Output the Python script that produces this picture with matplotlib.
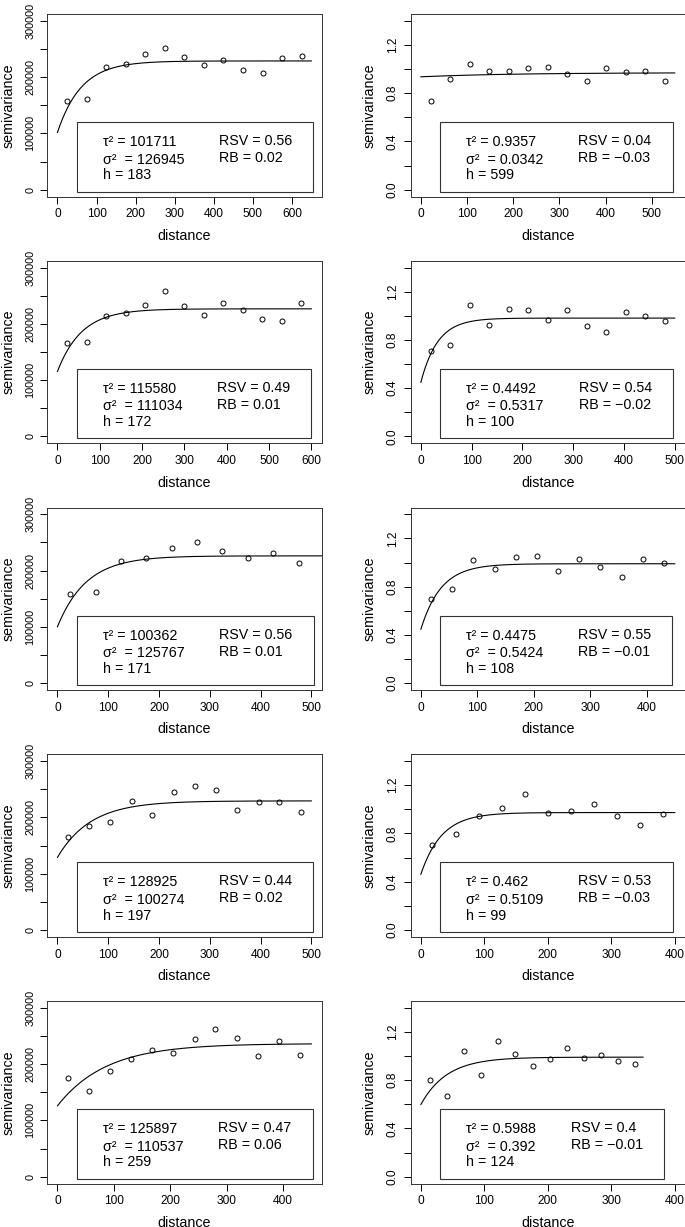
import numpy as np
import matplotlib
matplotlib.use('Agg')
import matplotlib.pyplot as plt
from matplotlib.patches import Rectangle

plt.rcParams['font.family'] = ['Liberation Sans', 'DejaVu Sans']

# empirical semivariogram points, one pair of lists per panel
# (left column: raw variable, right column: standardised variable)
dist_1 = [25, 75, 125, 175, 225, 275, 325, 375, 425, 475, 525, 575, 625]
semi_1 = [158300, 161300, 217600, 222900, 240100, 250800, 234800, 221700, 231200, 212900, 208100, 233600, 236600]
dist_2 = [21, 63, 106, 148, 190, 233, 275, 317, 359, 402, 444, 486, 528]
semi_2 = [0.734, 0.915, 1.045, 0.981, 0.981, 1.006, 1.020, 0.956, 0.898, 1.009, 0.976, 0.984, 0.904]
dist_3 = [23, 69, 115, 161, 207, 253, 300, 346, 392, 438, 484, 530, 576]
semi_3 = [165400, 167200, 214000, 218800, 233000, 257900, 232400, 216400, 237200, 225300, 208700, 205700, 236600]
dist_4 = [19, 57, 96, 134, 173, 211, 250, 288, 327, 365, 404, 442, 481]
semi_4 = [0.712, 0.754, 1.092, 0.923, 1.053, 1.050, 0.964, 1.045, 0.915, 0.865, 1.034, 1.001, 0.953]
dist_5 = [25, 75, 125, 175, 225, 275, 325, 375, 425, 475]
semi_5 = [158300, 161300, 217300, 223200, 240500, 251200, 234500, 222000, 230900, 213100]
dist_6 = [18, 56, 93, 131, 168, 206, 243, 281, 318, 356, 393, 431]
semi_6 = [0.694, 0.783, 1.022, 0.947, 1.050, 1.053, 0.933, 1.031, 0.961, 0.883, 1.031, 1.000]
dist_7 = [21, 62, 104, 146, 187, 229, 271, 312, 354, 396, 437, 479]
semi_7 = [165100, 185300, 191900, 228700, 204300, 244700, 256000, 247700, 213800, 228100, 227500, 210300]
dist_8 = [18, 55, 91, 128, 164, 200, 236, 273, 309, 345, 382]
semi_8 = [0.704, 0.796, 0.947, 1.008, 1.125, 0.969, 0.986, 1.044, 0.944, 0.866, 0.958]
dist_9 = [19, 56, 93, 131, 168, 205, 243, 280, 318, 355, 393, 430]
semi_9 = [175800, 152100, 187700, 209700, 225700, 220400, 244700, 263100, 246500, 215000, 240600, 216800]
dist_10 = [14, 41, 68, 95, 122, 148, 176, 203, 230, 257, 284, 311, 337]
semi_10 = [0.801, 0.673, 1.042, 0.840, 1.125, 1.020, 0.920, 0.976, 1.070, 0.984, 1.009, 0.956, 0.937]

dists = [dist_1, dist_2, dist_3, dist_4, dist_5, dist_6, dist_7, dist_8, dist_9, dist_10]
semis = [semi_1, semi_2, semi_3, semi_4, semi_5, semi_6, semi_7, semi_8, semi_9, semi_10]

# fitted exponential model parameters and fit statistics
tau2 = [101711, 0.9357, 115580, 0.4492, 100362, 0.4475, 128925, 0.462, 125897, 0.5988]
sigma2 = [126945, 0.0342, 111034, 0.5317, 125767, 0.5424, 100274, 0.5109, 110537, 0.392]
h_range = [183, 599, 172, 100, 171, 108, 197, 99, 259, 124]
rsv = [0.56, 0.04, 0.49, 0.54, 0.56, 0.55, 0.44, 0.53, 0.47, 0.4]
rb = [0.02, -0.03, 0.01, -0.02, 0.01, -0.01, 0.02, -0.03, 0.06, -0.01]

# x range of each plot and max distance of the model curve
x_max = [650, 550, 600, 500, 500, 450, 500, 400, 450, 400]
curve_max = [650, 550, 600, 500, 525, 450, 500, 400, 450, 350]


def fmt(v):
    return f"{v:g}".replace('-', '\u2212')


def main():
    W, H = 685, 1227
    fig = plt.figure(figsize=(W / 100, H / 100), dpi=100)

    for i in range(10):
        row, col = divmod(i, 2)
        left = [47.3, 410.7][col]
        top = 14 + 246.75 * row
        ax = fig.add_axes([left / W, 1 - (top + 182.5) / H, 274.2 / W, 182.5 / H])

        # model curve
        d = np.linspace(0, curve_max[i], 300)
        g = tau2[i] + sigma2[i] * (1 - np.exp(-3 * d / h_range[i]))
        ax.plot(d, g, color='black', lw=0.8)
        ax.plot(dists[i], semis[i], 'o', mfc='none', mec='black', ms=3.6, mew=0.7)

        xm = x_max[i]
        ax.set_xlim(-0.04 * xm, 1.04 * xm)
        ax.set_xticks(np.arange(0, xm + 1, 100))
        if col == 0:
            ax.set_ylim(-12000, 312000)
            yt = np.arange(0, 300001, 50000)
            ax.set_yticks(yt)
            ax.set_yticklabels([str(int(v)) if v % 100000 == 0 else '' for v in yt],
                               rotation=90, va='center', fontsize=7.8)
        else:
            ax.set_ylim(-0.056, 1.456)
            yt = np.arange(8) * 0.2
            ax.set_yticks(yt)
            ax.set_yticklabels([f"{v:.1f}" if k % 2 == 0 else '' for k, v in enumerate(yt)],
                               rotation=90, va='center', fontsize=8.6)

        ax.tick_params(direction='out', length=5, width=0.7, pad=3.6)
        ax.tick_params(axis='x', labelsize=8.6)
        for s in ax.spines.values():
            s.set_linewidth(0.7)
            s.set_color('#333333')
        ax.set_xlabel('distance', fontsize=10.3, labelpad=6)
        ax.set_ylabel('semivariance', fontsize=10.3, labelpad=7)

        # legend-like box with the fitted values
        col1 = ['\u03c4\u00b2 = ' + fmt(tau2[i]),
                '\u03c3\u00b2  = ' + fmt(sigma2[i]),
                'h = ' + fmt(h_range[i])]
        col2 = ['RSV = ' + fmt(rsv[i]), 'RB = ' + fmt(rb[i])]
        t1 = [ax.text(0.202, yy, s, transform=ax.transAxes, fontsize=10.3, va='baseline')
              for s, yy in zip(col1, [0.276, 0.180, 0.094])]
        fig.canvas.draw()
        r1 = max(t.get_window_extent().x1 for t in t1)
        x2 = ax.transAxes.inverted().transform((r1 + 35, 0))[0]
        t2 = [ax.text(x2, yy, s, transform=ax.transAxes, fontsize=10.3, va='baseline')
              for s, yy in zip(col2, [0.281, 0.188])]
        fig.canvas.draw()
        r2 = max(t.get_window_extent().x1 for t in t2)
        xr = ax.transAxes.inverted().transform((r2 + 21, 0))[0]
        ax.add_patch(Rectangle((0.107, 0.027), xr - 0.107, 0.381, transform=ax.transAxes,
                               fill=False, lw=0.8, ec='#333333'))

    fig.savefig('out.png', dpi=100)


if __name__ == "__main__":
    main()
